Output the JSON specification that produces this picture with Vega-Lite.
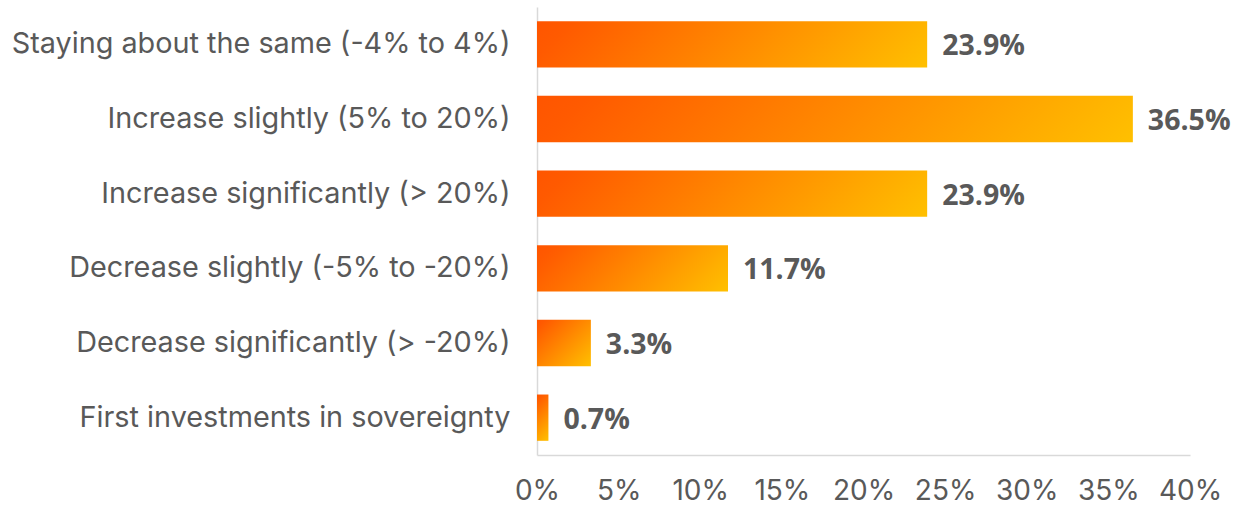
{
  "$schema": "https://vega.github.io/schema/vega-lite/v6.json",
  "autosize": {"type": "none"},
  "padding": {"left": 537, "top": 7, "right": 46, "bottom": 51},
  "width": 653,
  "height": 448,
  "background": "white",
  "config": {"view": {"stroke": null}},
  "data": {
    "values": [
      {"category": "Staying about the same (-4% to 4%)", "value": 0.239},
      {"category": "Increase slightly (5% to 20%)", "value": 0.365},
      {"category": "Increase significantly (> 20%)", "value": 0.239},
      {"category": "Decrease slightly (-5% to -20%)", "value": 0.117},
      {"category": "Decrease significantly (> -20%)", "value": 0.033},
      {"category": "First investments in sovereignty", "value": 0.007}
    ]
  },
  "encoding": {
    "y": {
      "field": "category",
      "type": "nominal",
      "sort": null,
      "scale": {
        "domain": ["Staying about the same (-4% to 4%)", "Increase slightly (5% to 20%)", "Increase significantly (> 20%)", "Decrease slightly (-5% to -20%)", "Decrease significantly (> -20%)", "First investments in sovereignty"],
        "paddingInner": 0.38,
        "paddingOuter": 0.19
      },
      "axis": {
        "title": null,
        "ticks": false,
        "domainColor": "#d9d9d9",
        "domainWidth": 1.5,
        "labelFont": "Inter",
        "labelFontSize": 28.8,
        "labelColor": "#595959",
        "labelPadding": 27,
        "labelLimit": 600
      }
    },
    "x": {
      "field": "value",
      "type": "quantitative",
      "scale": {"domain": [0, 0.4]},
      "axis": {
        "title": null,
        "values": [0, 0.05, 0.1, 0.15, 0.2, 0.25, 0.3, 0.35, 0.4],
        "format": ".0%",
        "ticks": false,
        "grid": false,
        "domainColor": "#d9d9d9",
        "domainWidth": 1.5,
        "labelFont": "Inter",
        "labelFontSize": 28,
        "labelColor": "#595959",
        "labelPadding": 22,
        "labelFlush": false
      }
    }
  },
  "layer": [
    {
      "transform": [{"filter": {"field": "value", "equal": 0.239}}],
      "mark": {
        "type": "bar",
        "fill": {
          "gradient": "linear", "x1": 0, "y1": 0, "x2": 1.103, "y2": 0.13,
          "stops": [{"offset": 0, "color": "#FF5500"}, {"offset": 0.08, "color": "#FF5A00"}, {"offset": 1, "color": "#FFC000"}]
        }
      }
    },
    {
      "transform": [{"filter": {"field": "value", "equal": 0.365}}],
      "mark": {
        "type": "bar",
        "fill": {
          "gradient": "linear", "x1": 0, "y1": 0, "x2": 1.071, "y2": 0.083,
          "stops": [{"offset": 0, "color": "#FF5500"}, {"offset": 0.08, "color": "#FF5A00"}, {"offset": 1, "color": "#FFC000"}]
        }
      }
    },
    {
      "transform": [{"filter": {"field": "value", "equal": 0.117}}],
      "mark": {
        "type": "bar",
        "fill": {
          "gradient": "linear", "x1": 0, "y1": 0, "x2": 1.173, "y2": 0.283,
          "stops": [{"offset": 0, "color": "#FF5500"}, {"offset": 0.08, "color": "#FF5A00"}, {"offset": 1, "color": "#FFC000"}]
        }
      }
    },
    {
      "transform": [{"filter": {"field": "value", "equal": 0.033}}],
      "mark": {
        "type": "bar",
        "fill": {
          "gradient": "linear", "x1": 0, "y1": 0, "x2": 1.073, "y2": 0.914,
          "stops": [{"offset": 0, "color": "#FF5500"}, {"offset": 0.08, "color": "#FF5A00"}, {"offset": 1, "color": "#FFC000"}]
        }
      }
    },
    {
      "transform": [{"filter": {"field": "value", "equal": 0.007}}],
      "mark": {
        "type": "bar",
        "fill": {
          "gradient": "linear", "x1": 0, "y1": 0, "x2": 0.291, "y2": 1.176,
          "stops": [{"offset": 0, "color": "#FF5500"}, {"offset": 0.08, "color": "#FF5A00"}, {"offset": 1, "color": "#FFC000"}]
        }
      }
    },
    {
      "mark": {
        "type": "text",
        "align": "left",
        "baseline": "middle",
        "dx": 15,
        "dy": 2,
        "font": "Open Sans",
        "fontWeight": "bold",
        "fontSize": 28.5,
        "color": "#595959"
      },
      "encoding": {"text": {"field": "value", "type": "quantitative", "format": ".1%"}}
    }
  ]
}
